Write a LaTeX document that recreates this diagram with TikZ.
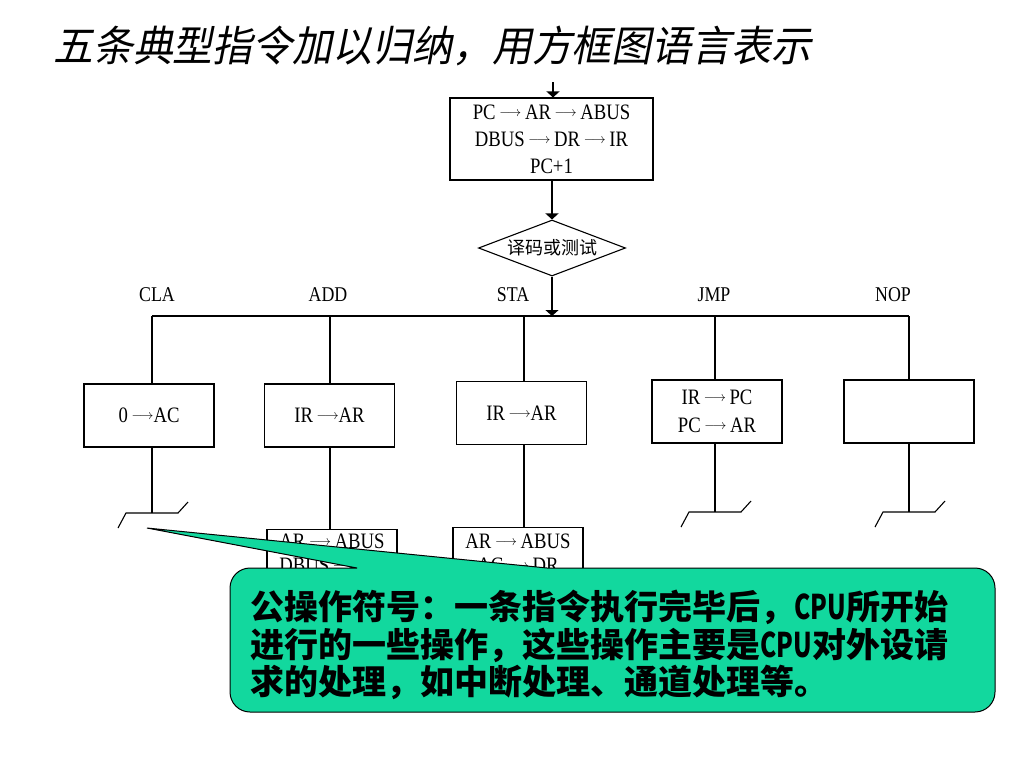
\documentclass[tikz,border=0pt]{standalone}
\usepackage{fontspec}
\setmainfont{Liberation Serif}
\newfontfamily\cjk{Noto Sans CJK SC}
\newfontfamily\cjki{Noto Sans CJK SC}[FakeSlant=0.2,FakeStretch=0.95]
\newfontfamily\dg{Liberation Serif}[FakeStretch=0.85]
\usetikzlibrary{arrows.meta,shapes.geometric}
\definecolor{callout}{RGB}{18,216,158}
\newcommand\harr{\raisebox{3pt}{\resizebox{22pt}{!}{$\longrightarrow$}}}
\newcommand\cpu{\scalebox{0.72}[1]{CPU}}
\begin{document}
\begin{tikzpicture}[x=1pt,y=-1pt,
  ln/.style={line width=1.1pt},
  arr/.style={ln,-{Triangle[length=6pt,width=13pt]}},
  box/.style={draw,ln,minimum width=130pt,minimum height=63pt,inner sep=0pt,
    font=\dg\fontsize{22}{28}\selectfont,align=center},
  lbl/.style={font=\dg\fontsize{21}{26}\selectfont,inner sep=0pt},
  txt/.style={font=\dg\fontsize{22}{24}\selectfont,inner sep=0pt,align=center},
  note/.style={anchor=base west,inner sep=0pt,font=\cjk\bfseries\fontsize{34}{37}\selectfont},
  endsym/.pic={\draw[line width=1.1pt] (-34,15) -- (-26,0) -- (26,0) -- (36,-11);}
]
\useasboundingbox (0,0) rectangle (1024,768);

% title
\node[anchor=base west,inner sep=0pt,font=\cjki\fontsize{42}{48}\selectfont] (title) at (53,61)
  {五条典型指令加以归纳，用方框图语言表示};

% fetch box
\coordinate (start) at (553,82);
\node[box,minimum width=203pt,minimum height=82pt,font=\dg\fontsize{22}{27}\selectfont] (fetch) at (551.5,139)
  {PC\,\harr\,AR\,\harr\,ABUS\\DBUS\,\harr\,DR\,\harr\,IR\\PC+1};
\draw[arr] (start) -- (start |- fetch.north);

% decode diamond
\node[draw,ln,diamond,aspect=2.6,minimum width=147pt,minimum height=56pt,inner sep=0pt,
  font=\cjk\fontsize{18}{20}\selectfont] (dec) at (552,248) {译码或测试};
\draw[arr] (dec.north |- fetch.south) -- (dec.north);

% bus
\coordinate (busL) at (152,316);
\coordinate (busA) at (330,316);
\coordinate (busS) at (524,316);
\coordinate (busJ) at (715,316);
\coordinate (busR) at (909,316);
\draw[ln] (busL) -- (busR);
\draw[arr] (dec.south) -- (dec.south |- busL);

% labels
\node[lbl] (lcla) at (157,295) {CLA};
\node[lbl] (ladd) at (328,295) {ADD};
\node[lbl] (lsta) at (513,295) {STA};
\node[lbl] (ljmp) at (714,295) {JMP};
\node[lbl] (lnop) at (893,295) {NOP};

% boxes
\node[box] (cla) at (149,415.5) {0\,\harr AC};
\node[box] (add) at (329.5,415.5) {IR\,\harr AR};
\node[box] (sta) at (521.5,413) {IR\,\harr AR};
\node[box] (jmp) at (717,411.5) {IR\,\harr\,PC\\PC\,\harr\,AR};
\node[box] (nop) at (909,411.5) {};

\draw[ln] (busL) -- (busL |- cla.north);
\draw[ln] (busA) -- (busA |- add.north);
\draw[ln] (busS) -- (busS |- sta.north);
\draw[ln] (busJ) -- (busJ |- jmp.north);
\draw[ln] (busR) -- (busR |- nop.north);

% end symbols
\coordinate (eC) at (152,513);
\coordinate (eJ) at (715,512);
\coordinate (eN) at (909,512);
\draw[ln] (eC |- cla.south) -- (eC);
\draw[ln] (eJ |- jmp.south) -- (eJ);
\draw[ln] (eN |- nop.south) -- (eN);
\pic at (eC) {endsym};
\pic at (eJ) {endsym};
\pic at (eN) {endsym};

% second boxes of ADD and STA
\node[draw,ln,anchor=north,minimum width=130pt,minimum height=72pt,inner sep=0pt] (add2) at (332,529) {};
\node[txt] (add2t) at (332,553) {AR\,\harr\,ABUS\\DBUS\,\harr\,DR};
\node[draw,ln,anchor=north,minimum width=130pt,minimum height=72pt,inner sep=0pt] (sta2) at (518,527) {};
\node[txt] (sta2t) at (518,553) {AR\,\harr\,ABUS\\AC\,\harr\,DR};
\draw[ln] (busA |- add.south) -- (busA |- add2.north);
\draw[ln] (busS |- sta.south) -- (busS |- sta2.north);

% callout
\coordinate (tip) at (147,528);
\draw[line width=1pt,fill=callout] (tip) -- (547,568) [rounded corners=20pt] -- (995,568) -- (995,712) -- (230,712) -- (230,568) -- (300,568) [sharp corners] -- (357,568) -- cycle;
\node[note] (c1) at (250,619) {公操作符号：一条指令执行完毕后，\cpu 所开始};
\node[note] (c2) at (250,657) {进行的一些操作，这些操作主要是\cpu 对外设请};
\node[note] (c3) at (250,694) {求的处理，如中断处理、通道处理等。};
\end{tikzpicture}
\end{document}
